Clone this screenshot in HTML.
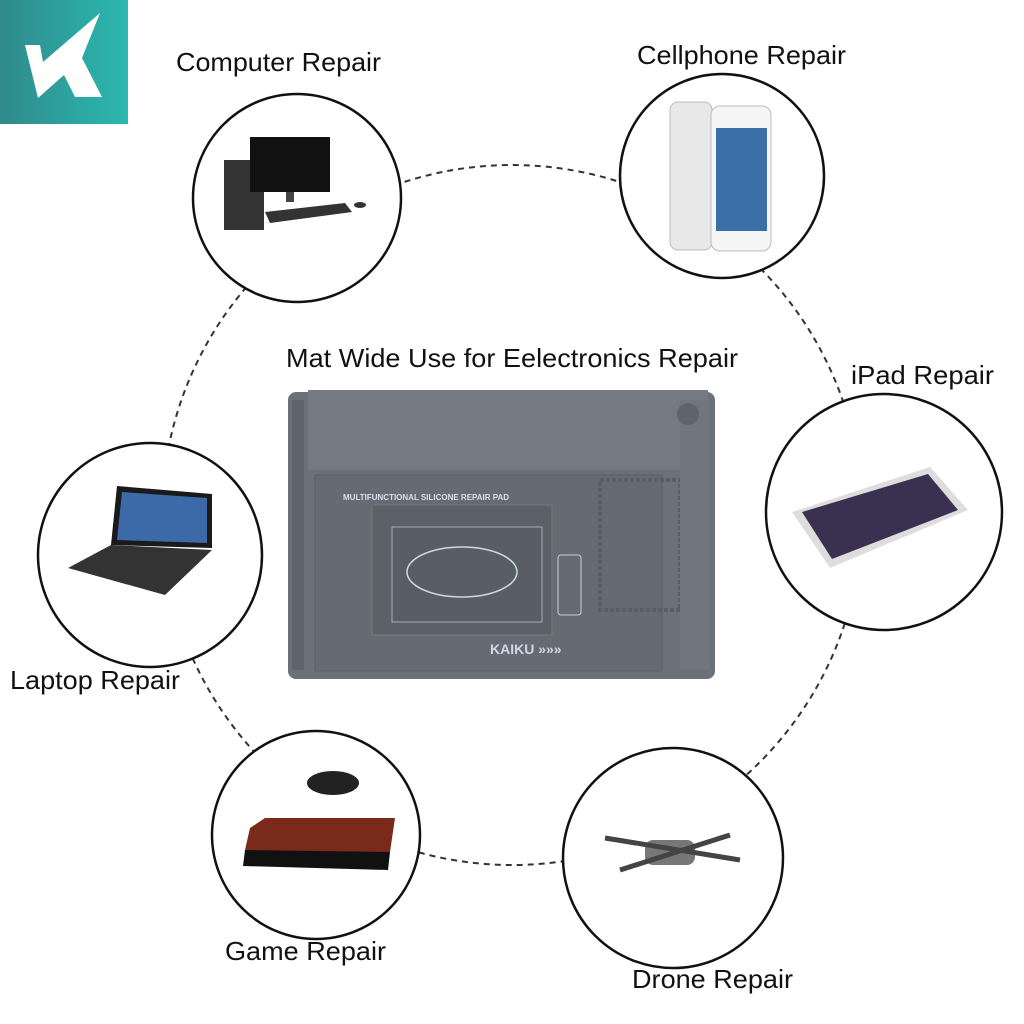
<!DOCTYPE html>
<html><head><meta charset="utf-8"><style>
body{margin:0;background:#fff}
svg{display:block}
text{font-family:"Liberation Sans","Noto Sans CJK SC",sans-serif}
</style></head><body>
<svg width="1024" height="1024" viewBox="0 0 1024 1024" xmlns="http://www.w3.org/2000/svg">
<defs>
<linearGradient id="lg" x1="0" x2="1"><stop offset="0" stop-color="#2f8a8a"/><stop offset="1" stop-color="#2bb8b0"/></linearGradient>
</defs>
<rect width="1024" height="1024" fill="#fff"/>
<circle cx="512" cy="515" r="350" fill="none" stroke="#333" stroke-width="2" stroke-dasharray="6,5"/>
<!-- logo -->
<rect x="0" y="0" width="128" height="124" fill="url(#lg)"/>
<polygon points="25,45 40,45 43,62 100,13 82,58 102,97 75,97 64,75 38,98" fill="#fff"/>
<!-- circles -->
<g fill="#fff" stroke="#111" stroke-width="2.5">
<circle cx="297" cy="198" r="104"/>
<circle cx="722" cy="176" r="102"/>
<circle cx="884" cy="512" r="118"/>
<circle cx="150" cy="555" r="112"/>
<circle cx="316" cy="835" r="104"/>
<circle cx="673" cy="858" r="110"/>
</g>
<g font-size="26" fill="#111">
<text x="176" y="71" textLength="205" lengthAdjust="spacingAndGlyphs">Computer Repair</text>
<text x="637" y="64" textLength="209" lengthAdjust="spacingAndGlyphs">Cellphone Repair</text>
<text x="851" y="384" textLength="143" lengthAdjust="spacingAndGlyphs">iPad Repair</text>
<text x="10" y="689" textLength="170" lengthAdjust="spacingAndGlyphs">Laptop Repair</text>
<text x="225" y="960" textLength="161" lengthAdjust="spacingAndGlyphs">Game Repair</text>
<text x="632" y="988" textLength="161" lengthAdjust="spacingAndGlyphs">Drone Repair</text>
<text x="286" y="367" textLength="452" lengthAdjust="spacingAndGlyphs">Mat Wide Use for Eelectronics Repair</text>
</g>
<!-- computer -->
<rect x="224" y="160" width="40" height="70" fill="#333"/>
<rect x="250" y="137" width="80" height="55" fill="#111"/>
<rect x="286" y="192" width="8" height="10" fill="#444"/>
<polygon points="265,212 345,203 352,212 270,223" fill="#333"/>
<ellipse cx="360" cy="205" rx="6" ry="3" fill="#333"/>
<!-- phones -->
<rect x="670" y="102" width="42" height="148" rx="8" fill="#e8e8e8" stroke="#bbb"/>
<rect x="711" y="106" width="60" height="145" rx="9" fill="#f5f5f5" stroke="#bbb"/>
<rect x="716" y="128" width="51" height="103" fill="#3a6fa8"/>
<!-- ipad -->
<polygon points="792,512 930,467 968,510 830,568" fill="#ddd"/>
<polygon points="802,512 928,474 958,510 832,559" fill="#3a3050"/>
<!-- laptop -->
<polygon points="117,486 212,494 212,548 111,545" fill="#1a1a1a"/>
<polygon points="122,492 207,498 207,543 117,540" fill="#3c6aa8"/>
<polygon points="68,568 111,545 212,550 165,595" fill="#333"/>
<!-- game -->
<ellipse cx="333" cy="783" rx="26" ry="12" fill="#222"/>
<polygon points="250,828 265,818 395,818 390,852 265,860 245,850" fill="#7a2a1a"/>
<polygon points="245,850 390,852 388,870 243,866" fill="#111"/>
<!-- drone -->
<rect x="645" y="840" width="50" height="25" rx="8" fill="#777"/>
<line x1="605" y1="838" x2="740" y2="860" stroke="#444" stroke-width="5"/>
<line x1="620" y1="870" x2="730" y2="835" stroke="#444" stroke-width="5"/>
<!-- mat -->
<rect x="288" y="392" width="427" height="287" rx="8" fill="#6b7079"/>
<rect x="308" y="390" width="400" height="80" fill="#747982"/>
<rect x="315" y="475" width="347" height="196" fill="#656a73" stroke="#5a5f67"/>
<rect x="372" y="505" width="180" height="130" fill="#5c6169" stroke="#777"/>
<rect x="392" y="527" width="150" height="95" fill="#595e66" stroke="#aab"/>
<ellipse cx="462" cy="572" rx="55" ry="25" fill="none" stroke="#cdd" stroke-width="1.5"/>
<rect x="600" y="480" width="80" height="130" fill="none" stroke="#5a5f67" stroke-dasharray="4,2" stroke-width="4"/>
<rect x="558" y="555" width="23" height="60" rx="3" fill="none" stroke="#ccd"/>
<text x="343" y="500" font-size="8" fill="#dde" font-weight="bold">MULTIFUNCTIONAL SILICONE REPAIR PAD</text>
<text x="490" y="654" font-size="14" fill="#cfd8e8" font-weight="bold">KAIKU »»»</text>
<rect x="292" y="400" width="12" height="270" fill="#5f646c"/>
<rect x="680" y="400" width="30" height="270" fill="#70757e"/>
<circle cx="688" cy="414" r="11" fill="#5f646c"/>
</svg>
</body></html>
